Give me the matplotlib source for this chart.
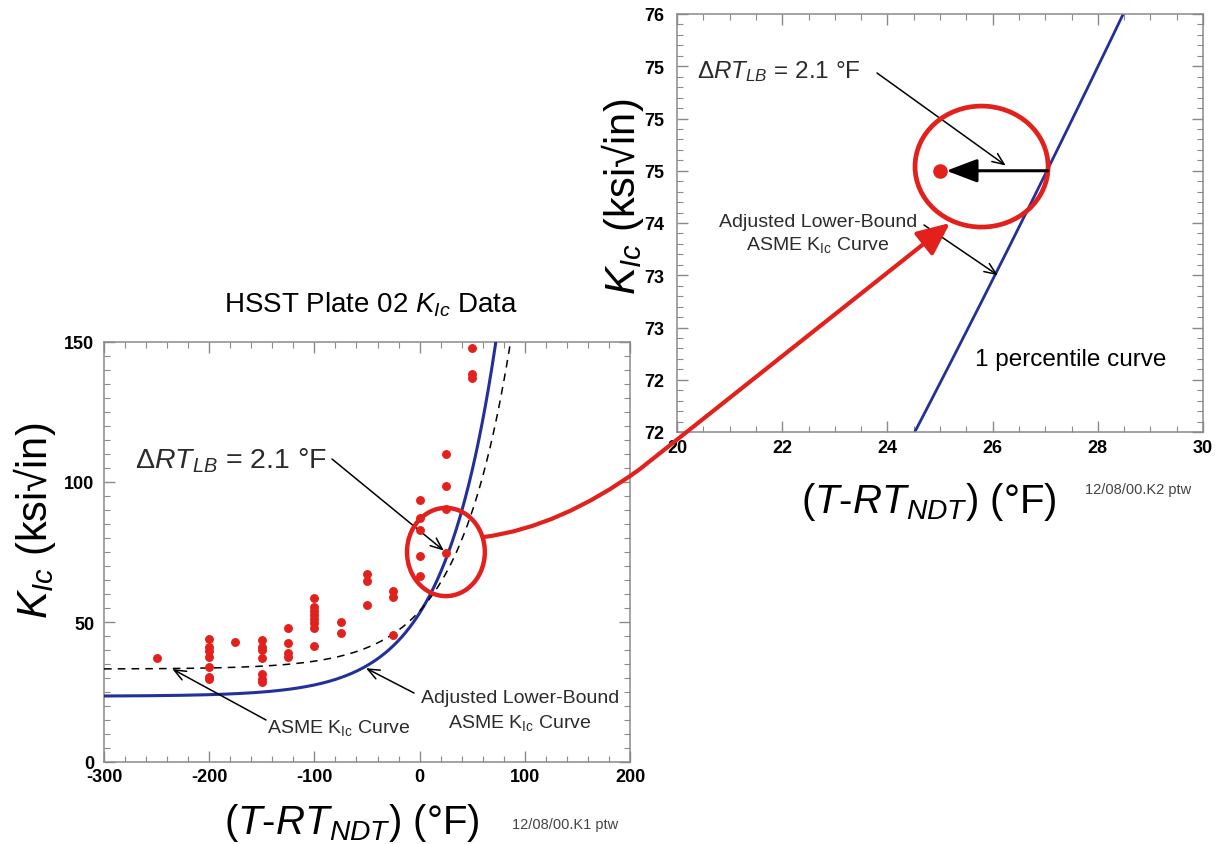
import numpy as np
import matplotlib
matplotlib.use('Agg')
import matplotlib.pyplot as plt
from matplotlib.patches import Ellipse, FancyArrowPatch
from matplotlib.path import Path
from matplotlib.ticker import MultipleLocator, FixedLocator

plt.rcParams['font.family'] = ['Liberation Sans', 'DejaVu Sans']
plt.rcParams['mathtext.fontset'] = 'custom'
plt.rcParams['mathtext.rm'] = 'Liberation Sans'
plt.rcParams['mathtext.it'] = 'Liberation Sans:italic'
plt.rcParams['mathtext.bf'] = 'Liberation Sans:bold'
plt.rcParams['axes.unicode_minus'] = False

# ---------------- data ----------------
temp_pts = [-250,
            -200, -200, -200, -200, -200, -200, -200,
            -175,
            -150, -150, -150, -150, -150, -150, -150,
            -125, -125, -125, -125,
            -100, -100, -100, -100, -100, -100, -100, -100,
            -75, -75,
            -50, -50, -50,
            -25, -25, -25,
            0, 0, 0, 0, 0,
            25, 25, 25, 25,
            50, 50, 50]
kic_pts = [37,
           44, 41, 39.5, 37.5, 34, 30.5, 29.5,
           43,
           43.5, 41, 40, 37, 31.5, 29.5, 28.5,
           48, 42.5, 39, 37.5,
           58.5, 55.5, 54, 52.5, 51, 49.5, 48, 41.5,
           50, 46,
           67, 64.5, 56,
           61, 59, 45.5,
           93.5, 87, 83, 73.5, 66.5,
           110, 98.5, 90.5, 74.5,
           148, 138.5, 137]

# ASME K_Ic curve: K = a + b*exp(c*T)
asme_a, asme_b, asme_c = 33.2, 20.734, 0.02
# adjusted lower-bound (1 percentile) curve
adj_a, adj_b, adj_c = 23.5, 29.7, 0.02

zoom_point_T = 25.0
zoom_point_K = 74.5
delta_rt = 2.1

right_yticks = [72, 72.5, 73, 73.5, 74, 74.5, 75, 75.5, 76]
right_yticklabels = ['72', '72', '73', '73', '74', '75', '75', '75', '76']

RED = '#e3211c'
BLUE = '#23309a'
GRAY = '#8a8a8a'
TXT = '#2b2b2b'

W, H = 1218, 845
fig = plt.figure(figsize=(W / 100, H / 100), dpi=100)


def px_axes(x0, y0, x1, y1):
    return [x0 / W, 1 - y1 / H, (x1 - x0) / W, (y1 - y0) / H]


def style_axes(ax):
    for s in ax.spines.values():
        s.set_color(GRAY)
        s.set_linewidth(1.1)
    ax.tick_params(which='both', direction='in', top=True, right=True,
                   color=GRAY, labelsize=13)
    ax.tick_params(which='major', length=8, width=1.0)
    ax.tick_params(which='minor', length=4, width=0.8)
    for lab in ax.get_xticklabels() + ax.get_yticklabels():
        lab.set_fontweight('bold')


# ---------------- left plot ----------------
ax1 = fig.add_axes(px_axes(104, 343, 630, 763))
T = np.linspace(-300, 200, 800)
ax1.plot(T, adj_a + adj_b * np.exp(adj_c * T), color=BLUE, lw=2.2, zorder=3)
ax1.plot(T, asme_a + asme_b * np.exp(asme_c * T), color='black', lw=1.1,
         ls=(0, (5, 4)), zorder=3)
ax1.plot(temp_pts, kic_pts, 'o', color=RED, ms=5.4, mec=RED, zorder=4)
ax1.set_xlim(-300, 200)
ax1.set_ylim(0, 150)
ax1.xaxis.set_major_locator(MultipleLocator(100))
ax1.xaxis.set_minor_locator(MultipleLocator(20))
ax1.yaxis.set_major_locator(MultipleLocator(50))
ax1.yaxis.set_minor_locator(MultipleLocator(5))
style_axes(ax1)
ax1.tick_params(axis='x', pad=4)
ax1.tick_params(axis='y', pad=7)
ax1.add_patch(Ellipse((25, 75), 74, 31.5, fill=False, ec=RED, lw=3.2,
                      clip_on=False, zorder=5))

# ---------------- right plot ----------------
ax2 = fig.add_axes(px_axes(677, 15, 1203, 433))
T2 = np.linspace(20, 30, 200)
ax2.plot(T2, adj_a + adj_b * np.exp(adj_c * T2), color=BLUE, lw=2.0)
ax2.plot([zoom_point_T], [zoom_point_K], 'o', color=RED, ms=9.5, zorder=5)
ax2.set_xlim(20, 30)
ax2.set_ylim(72, 76)
ax2.xaxis.set_major_locator(MultipleLocator(2))
ax2.xaxis.set_minor_locator(MultipleLocator(0.5))
ax2.yaxis.set_major_locator(FixedLocator(right_yticks))
ax2.set_yticklabels(right_yticklabels)
ax2.yaxis.set_minor_locator(MultipleLocator(0.1))
style_axes(ax2)
ax2.tick_params(axis='x', pad=5)
ax2.tick_params(axis='y', pad=9)
ax2.add_patch(Ellipse((25.79, 74.54), 2.53, 1.158, fill=False, ec=RED, lw=3.4,
                      clip_on=False, zorder=6))
ax2.annotate('', xy=(zoom_point_T + 0.12, zoom_point_K),
             xytext=(zoom_point_T + delta_rt - 0.05, zoom_point_K),
             arrowprops=dict(arrowstyle='-|>,head_length=0.95,head_width=0.36',
                             mutation_scale=20, color='black', lw=2.2,
                             shrinkA=0, shrinkB=0), zorder=7)

thin = dict(arrowstyle='->,head_length=0.6,head_width=0.25', mutation_scale=14,
            color='black', lw=1.1, shrinkA=0, shrinkB=0)

# arrows (targets in data coordinates, starts near texts in figure pixels)
ax1.annotate('', xy=(23, 75.5), xycoords='data',
             xytext=(332, H - 460), textcoords='figure pixels', arrowprops=thin)
ax1.annotate('', xy=(-235, 33.2), xycoords='data',
             xytext=(266, H - 721), textcoords='figure pixels', arrowprops=thin)
ax1.annotate('', xy=(-51, 33.5), xycoords='data',
             xytext=(414, H - 694), textcoords='figure pixels', arrowprops=thin)
ax2.annotate('', xy=(26.25, 74.55), xycoords='data',
             xytext=(877, H - 74), textcoords='figure pixels', arrowprops=thin)
ax2.annotate('', xy=(26.1, 73.5), xycoords='data',
             xytext=(924, H - 226), textcoords='figure pixels', arrowprops=thin)

# ---------------- overlay (texts, connector) ----------------
ov = fig.add_axes([0, 0, 1, 1], zorder=10)
ov.set_xlim(0, W)
ov.set_ylim(H, 0)
ov.axis('off')
ov.patch.set_alpha(0)

verts = [(484, 538), (560, 528), (640, 470), (950, 224)]
codes = [Path.MOVETO, Path.CURVE3, Path.CURVE3, Path.LINETO]
conn = FancyArrowPatch(path=Path(verts, codes),
                       arrowstyle='-|>,head_length=1.0,head_width=0.45',
                       mutation_scale=20, color=RED, lw=3.0,
                       transform=ov.transData)
ov.add_patch(conn)

ov.text(371, 313, r'HSST Plate 02 $K_{Ic}$ Data', fontsize=20, ha='center',
        va='baseline', color='black')
ov.text(135, 469, r'$\Delta RT_{LB}$ = 2.1 °F', fontsize=20.5, ha='left',
        va='baseline', color=TXT)
ov.text(267, 733, r'ASME $\mathrm{K_{Ic}}$ Curve', fontsize=14, ha='left',
        va='baseline', color=TXT)
ov.text(520, 703, 'Adjusted Lower-Bound', fontsize=14, ha='center',
        va='baseline', color=TXT)
ov.text(520, 728, r'ASME $\mathrm{K_{Ic}}$ Curve', fontsize=14, ha='center',
        va='baseline', color=TXT)
ov.text(697, 78, r'$\Delta RT_{LB}$ = 2.1 °F', fontsize=17.5, ha='left',
        va='baseline', color=TXT)
ov.text(818, 227, 'Adjusted Lower-Bound', fontsize=14, ha='center',
        va='baseline', color=TXT)
ov.text(818, 250, r'ASME $\mathrm{K_{Ic}}$ Curve', fontsize=14, ha='center',
        va='baseline', color=TXT)
ov.text(975, 366, '1 percentile curve', fontsize=17.5, ha='left',
        va='baseline', color='black')

ov.text(35, 521, r'$K_{Ic}$ (ksi√in)', fontsize=30, rotation=90,
        ha='center', va='center', color='black')
ov.text(622, 197, r'$K_{Ic}$ (ksi√in)', fontsize=30, rotation=90,
        ha='center', va='center', color='black')
ov.text(352, 834, r'($T$-$RT_{NDT}$) (°F)', fontsize=29, ha='center',
        va='baseline', color='black')
ov.text(929, 513, r'($T$-$RT_{NDT}$) (°F)', fontsize=29, ha='center',
        va='baseline', color='black')
ov.text(512, 829, '12/08/00.K1 ptw', fontsize=10.5, ha='left', va='baseline',
        color='#444444')
ov.text(1085, 494, '12/08/00.K2 ptw', fontsize=10.5, ha='left', va='baseline',
        color='#444444')

fig.savefig('out.png', dpi=100, facecolor='white')
